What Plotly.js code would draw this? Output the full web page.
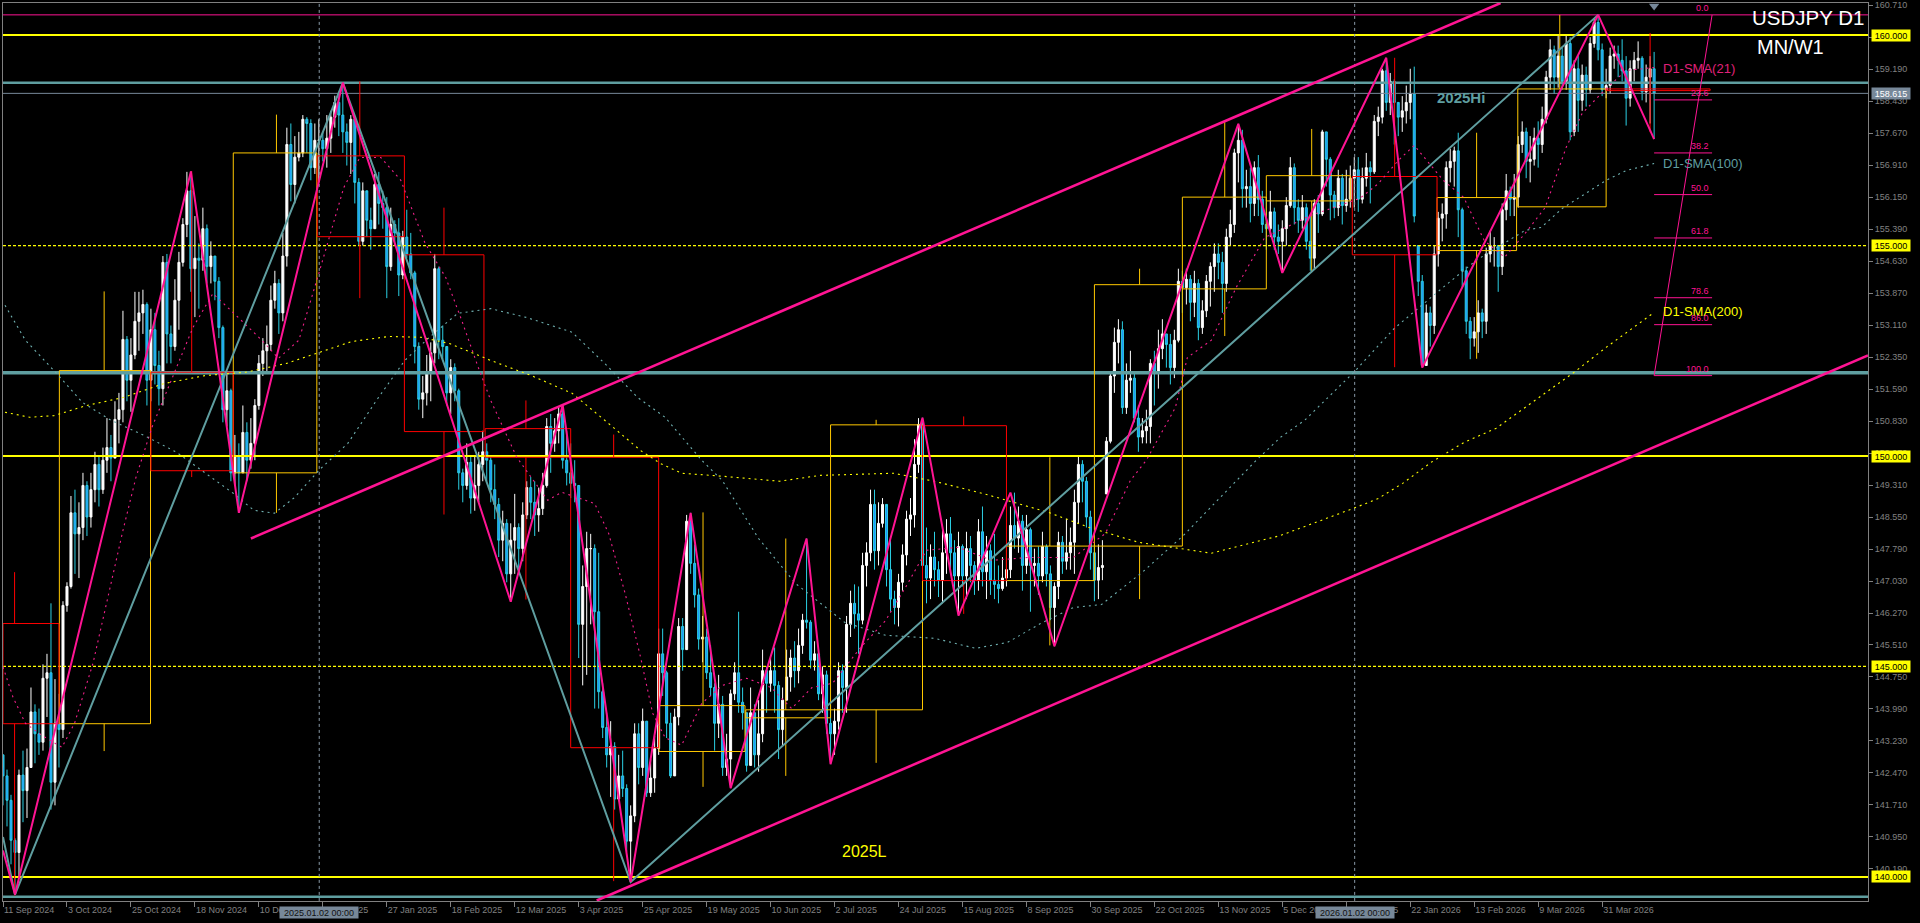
<!DOCTYPE html>
<html><head><meta charset="utf-8"><title>USDJPY D1</title>
<script src="https://cdn.plot.ly/plotly-3.0.1.min.js"></script>
<style>html,body{margin:0;padding:0;background:#000;overflow:hidden}#chart{width:1920px;height:923px}</style>
</head><body><div id="chart"></div>
<script>
const dateLabels=["11 Sep 2024","3 Oct 2024","25 Oct 2024","18 Nov 2024","10 Dec 2024","2 Jan 2025","27 Jan 2025","18 Feb 2025","12 Mar 2025","3 Apr 2025","25 Apr 2025","19 May 2025","10 Jun 2025","2 Jul 2025","24 Jul 2025","15 Aug 2025","8 Sep 2025","30 Sep 2025","22 Oct 2025","13 Nov 2025","5 Dec 2025","30 Dec 2025","22 Jan 2026","13 Feb 2026","9 Mar 2026","31 Mar 2026"];
const priceTicks=[160.71,159.95,159.19,158.43,157.67,156.91,156.15,155.39,154.63,153.87,153.11,152.35,151.59,150.83,150.07,149.31,148.55,147.79,147.03,146.27,145.51,144.75,143.99,143.23,142.47,141.71,140.95,140.19];
const firstOpen=142.90;
const gapOpens={276:149.10,354:155.00};
const closes=[142.40,141.82,140.87,140.58,142.42,142.05,142.60,143.92,143.40,143.20,
144.72,144.85,142.25,143.65,143.50,146.45,146.90,148.65,148.15,148.30,
149.30,148.55,149.20,149.80,149.20,149.90,150.20,149.95,150.87,151.10,
152.77,151.80,152.40,153.20,153.40,153.60,151.80,153.00,152.15,151.60,
154.60,152.90,152.60,153.70,154.60,155.50,156.30,154.45,154.70,154.65,
155.40,154.50,154.75,154.15,153.05,151.10,151.55,149.60,150.00,149.60,
150.56,149.90,150.30,151.20,152.20,152.50,152.65,153.70,154.10,153.40,
154.75,157.40,156.45,157.10,157.20,158.00,157.90,156.85,157.50,157.50,
157.30,157.55,158.05,158.40,158.10,157.70,157.45,158.00,156.50,155.10,
156.30,155.60,155.40,156.45,156.00,155.90,154.50,155.50,155.30,154.30,
155.20,154.80,154.35,152.60,151.35,151.50,152.00,152.45,154.45,152.75,
152.60,151.50,152.10,151.55,149.60,149.30,149.85,149.00,149.30,149.80,
150.10,149.90,149.20,148.85,148.00,148.40,147.20,148.00,148.30,147.80,
148.60,149.25,148.90,148.60,148.75,149.30,150.70,150.30,150.60,151.00,
149.90,149.60,149.35,149.30,146.00,146.90,147.80,147.80,146.30,144.40,
143.55,142.90,143.10,141.85,142.40,142.10,140.85,141.45,143.40,142.60,
143.70,142.00,142.35,143.05,145.30,144.85,143.65,142.40,143.80,145.95,
145.40,148.45,147.45,146.70,145.65,145.70,144.85,144.50,143.65,144.10,
142.60,142.80,144.35,144.85,144.15,143.90,142.65,143.90,142.90,143.40,
144.90,144.60,144.90,144.55,143.50,144.20,144.75,145.20,144.90,145.50,
146.10,146.05,145.15,145.30,144.35,144.80,143.65,143.40,143.70,144.90,
144.50,146.00,146.50,146.25,146.10,147.40,147.70,148.85,147.75,148.40,
148.85,147.30,146.60,146.40,147.00,147.65,148.50,148.60,149.80,150.75,
147.40,147.10,147.60,147.30,147.05,147.70,148.15,147.70,147.15,147.85,
147.15,147.80,147.40,147.05,148.20,147.25,147.75,147.05,146.95,146.85,
147.10,147.30,148.35,148.05,148.45,147.40,148.25,147.40,147.45,147.15,
147.85,147.20,146.40,146.90,147.95,147.50,147.70,147.95,148.90,149.80,
149.40,148.55,147.70,147.05,147.35,147.40,150.35,151.90,152.70,153.00,
151.15,151.80,151.85,150.90,150.45,150.60,150.70,152.20,152.00,152.55,
152.90,152.65,152.10,152.75,154.15,154.00,154.20,153.65,154.10,153.05,
153.45,154.15,154.50,154.80,154.60,154.10,155.20,155.50,157.20,157.50,
156.35,156.40,156.00,156.85,156.10,155.50,155.40,155.80,155.20,155.10,
155.40,155.95,156.85,155.90,155.60,155.90,155.10,154.70,156.00,155.75,
157.70,157.05,156.20,155.90,156.60,155.95,156.10,156.60,156.80,156.10,
156.60,156.85,156.75,157.95,158.05,159.15,158.40,158.90,158.40,158.05,
158.20,158.40,158.60,155.70,154.15,152.15,153.40,153.10,154.80,155.65,
155.75,156.85,157.00,157.25,155.85,154.40,153.20,152.80,152.95,153.40,
153.20,154.80,155.00,155.00,154.50,155.85,156.30,156.10,156.15,157.40,
157.70,157.00,157.05,157.55,157.40,158.00,159.00,159.65,159.00,159.50,
158.90,159.80,157.70,159.20,158.45,159.05,158.70,159.80,160.30,159.65,
158.70,158.80,159.50,159.55,159.40,159.15,158.50,159.20,159.40,159.45,
158.65,159.00,159.20,158.62];
const highs=[142.60,142.55,141.95,140.92,142.55,143.00,143.05,144.50,144.10,144.00,
145.05,145.30,146.50,144.70,144.35,146.55,147.00,149.05,149.20,148.90,
149.60,149.40,149.60,150.10,150.00,150.20,150.90,150.50,151.30,151.50,
153.45,152.85,152.80,153.90,153.90,153.95,153.65,153.50,153.40,152.50,
154.75,154.80,153.10,154.20,154.85,155.65,156.75,156.76,155.70,155.05,
155.90,155.50,155.10,154.70,154.25,153.10,152.00,151.60,150.50,150.30,
151.20,150.80,150.90,151.35,152.40,152.80,153.10,154.05,154.40,154.20,
155.30,157.80,157.90,157.60,157.70,158.10,158.05,158.00,157.90,158.00,
157.70,158.10,158.20,158.56,158.60,158.87,157.90,158.10,158.00,156.60,
156.50,156.25,155.90,156.70,156.75,156.30,156.15,155.90,155.60,155.65,
155.35,155.85,155.30,154.40,152.70,151.90,152.40,152.70,154.80,154.50,
153.10,152.50,152.30,152.20,151.60,149.70,150.30,150.00,150.00,150.10,
150.60,150.30,150.00,149.80,149.00,148.70,148.50,148.40,149.10,148.40,
148.90,149.40,149.50,149.40,149.25,149.60,150.90,151.00,150.90,151.15,
151.20,150.60,150.30,149.90,149.30,147.40,148.20,148.15,147.90,147.70,
144.60,143.90,143.70,143.20,142.90,143.00,142.20,141.70,143.65,143.65,
144.00,143.70,142.80,143.35,145.90,145.90,144.90,143.90,144.00,146.15,
146.15,148.60,148.65,147.90,146.85,146.20,145.90,145.50,144.60,144.80,
144.30,143.40,144.45,145.10,146.30,144.50,143.90,144.50,144.10,144.20,
145.40,145.00,145.20,145.45,144.65,144.50,145.40,145.40,145.60,145.90,
146.25,148.04,146.10,145.60,145.40,145.00,144.90,144.10,144.00,145.10,
145.05,146.20,146.80,146.95,146.90,147.70,147.95,149.20,149.20,148.90,
149.00,148.80,148.00,146.80,147.20,147.90,148.70,149.00,150.40,150.90,
150.91,148.30,147.90,148.20,147.50,148.30,148.50,148.55,148.00,148.20,
147.90,148.20,148.10,147.50,148.50,148.80,148.10,147.90,148.15,147.40,
147.60,147.60,148.80,149.13,148.80,148.60,148.60,148.30,147.80,147.85,
148.20,147.90,147.40,147.00,148.20,148.10,148.50,148.30,149.20,150.00,
149.90,149.50,148.70,147.90,147.90,148.00,150.45,152.00,153.05,153.25,
153.20,152.20,152.50,151.95,151.20,150.90,151.10,152.30,152.50,153.00,
153.25,152.90,152.90,153.00,154.45,154.40,154.45,154.30,154.40,154.20,
153.70,154.30,154.60,155.05,155.05,154.85,155.40,155.85,157.30,157.89,
157.75,156.80,156.85,157.00,157.15,156.30,156.15,156.30,155.90,155.50,
155.60,156.15,157.10,156.95,156.10,156.20,156.00,155.70,156.10,156.20,
157.75,157.70,157.10,156.30,156.80,156.70,156.80,156.90,157.10,157.10,
156.85,157.20,157.00,158.10,158.30,159.20,159.46,159.10,158.95,158.35,
158.55,158.80,159.20,159.25,155.00,154.30,153.60,153.55,155.00,155.80,
156.00,157.00,157.30,157.35,157.68,155.90,154.50,153.30,153.30,153.70,
153.50,154.95,155.35,155.20,155.00,156.00,156.70,156.40,156.70,157.60,
157.95,157.80,157.60,157.80,157.95,158.30,159.15,159.90,159.75,160.00,
159.70,160.00,159.95,159.40,159.50,159.30,159.25,159.95,160.40,160.48,
159.80,159.20,159.70,159.75,159.75,159.90,159.50,159.40,159.60,159.85,
159.50,159.30,159.50,159.60];
const lows=[141.70,141.20,140.30,139.58,140.00,141.30,141.40,142.60,142.70,142.90,
143.00,143.80,141.60,141.70,142.60,143.30,146.30,146.85,147.20,147.10,
148.00,148.10,148.30,148.90,148.80,149.10,149.60,149.40,150.00,150.30,
150.80,151.30,151.05,152.30,152.50,152.90,151.20,151.30,151.70,151.20,
151.20,152.20,152.20,152.50,153.00,154.50,155.20,153.90,153.30,153.50,
154.40,154.10,154.10,153.70,152.80,150.80,150.70,149.40,149.30,148.65,
149.60,149.40,149.70,149.90,151.10,151.90,152.00,152.50,153.50,152.90,
153.20,154.50,156.05,156.00,157.00,157.10,157.20,156.55,156.70,156.50,
157.00,156.85,157.20,157.80,157.60,157.20,156.90,156.70,156.00,155.00,
155.00,155.20,154.90,155.40,155.50,155.40,153.75,154.40,155.00,153.80,
154.20,154.70,154.20,152.20,151.10,150.90,151.20,151.30,152.20,152.30,
152.30,151.20,151.00,151.30,149.20,148.90,149.20,148.63,148.70,148.90,
149.40,149.40,148.90,148.50,147.60,147.50,147.00,146.54,147.20,147.20,
147.50,148.50,148.50,148.10,148.20,148.60,149.25,149.60,150.10,150.30,
149.70,149.30,149.00,148.90,145.20,144.55,144.80,146.00,144.00,144.00,
143.30,142.60,141.90,141.60,141.80,141.90,140.60,139.88,141.30,142.20,
142.40,141.90,141.90,142.00,142.90,144.30,143.30,142.35,142.40,143.60,
144.90,146.00,147.20,146.40,145.40,145.10,144.70,144.30,143.00,143.30,
142.40,142.40,142.11,144.20,143.90,143.50,142.50,142.90,142.60,142.50,
143.20,143.90,144.40,143.90,142.80,143.10,144.30,144.40,144.50,144.60,
145.30,145.90,144.95,144.90,144.20,143.90,143.40,142.68,142.90,143.50,
143.90,143.90,145.70,145.90,145.30,146.00,146.90,147.50,147.30,147.40,
148.30,146.90,146.30,146.00,145.95,146.80,147.40,148.10,148.30,149.60,
147.30,146.50,146.60,146.90,146.65,146.50,147.20,147.30,146.80,146.21,
146.90,146.60,147.00,146.70,146.80,146.90,146.60,146.70,146.60,146.50,
146.80,146.90,147.10,147.80,147.70,146.80,147.20,146.30,146.90,146.70,
147.00,146.90,146.10,145.48,146.60,147.20,147.30,147.30,147.20,148.40,
148.90,148.30,147.30,146.55,146.60,147.05,149.10,150.30,151.50,152.20,
151.00,151.00,151.50,150.80,150.10,150.30,150.30,150.30,151.20,151.60,
152.30,152.10,151.70,151.85,152.70,153.40,153.60,153.20,153.30,152.75,
152.90,153.30,153.55,153.90,154.20,153.40,153.90,155.00,155.30,156.50,
155.90,155.90,155.55,155.70,155.70,155.30,154.90,155.20,154.90,154.80,
154.35,155.00,155.90,155.50,155.30,155.40,154.90,154.40,154.45,155.30,
155.70,156.40,155.60,155.65,155.70,155.50,155.80,155.90,155.90,155.80,
156.00,156.40,156.00,156.70,157.60,157.90,158.20,158.10,157.40,157.60,
157.70,157.90,158.00,155.55,153.80,152.10,152.30,152.60,152.90,154.50,
155.10,155.40,156.50,156.40,155.20,154.00,152.90,152.30,152.60,152.45,
152.80,152.90,154.60,154.50,153.90,154.30,155.60,155.70,155.70,155.90,
157.20,156.60,156.50,156.90,156.85,157.20,157.90,158.70,158.60,158.75,
158.70,158.70,157.50,157.60,157.70,158.20,158.30,158.60,159.70,159.40,
158.55,158.50,158.60,159.20,159.00,158.90,157.85,158.30,158.90,159.20,
158.45,158.40,157.90,157.53];

// higher timeframe candles: left bar, right bar, wick bar, body top, body bottom, high, low
const htfColors=["r","y","r","y","r","r","r","r","y","y","y","r","y","y","y","y","r","y","y","r"];
const htfLeft =[0,14.1,37,57.6,78.6,100.4,120.6,142,164.1,185.8,207,230,251,273,295,316,337.5,358.7,378.9,401];
const htfRight=[14,36.9,57.6,78.5,100.4,120.3,142,164,185.6,207,230,251,273,295,316,337,358.7,378.6,401,427];
const htfWick =[2.9,25.3,47.2,68.4,89.25,110.3,130.8,152.75,175.1,195.8,218.4,240.3,261.85,284.3,305.6,327.35,348.1,368.6,389.4,412];
const htfTop  =[146.02,152.03,151.99,157.20,157.13,154.78,150.65,149.97,144.07,143.97,150.74,150.72,147.86,154.07,156.15,156.66,156.64,156.14,158.72,158.72];
const htfBot  =[143.64,143.64,149.65,149.60,155.21,150.58,149.97,143.07,142.98,143.78,143.97,147.04,147.04,147.86,153.97,156.06,154.78,154.88,155.92,158.68];
const htfHigh =[147.24,153.91,156.77,158.11,158.90,155.90,151.32,150.51,148.66,148.04,150.86,150.94,149.97,154.45,157.93,157.77,159.46,157.68,160.48,160.05];
const htfLow  =[139.56,142.99,149.50,148.65,153.75,148.61,146.59,139.90,142.14,142.40,142.71,146.25,145.50,146.60,152.85,154.37,152.11,152.31,155.92,157.69];

// zigzags
const pinkZigX=[0,3,47,59,85,127,140,157,172,182,201,207,230,239,252,263,309,320,346,355,399,413];
const pinkZigP=[140.63,139.58,156.76,148.65,158.87,146.54,151.21,139.88,148.65,142.11,148.04,142.68,150.91,146.21,149.13,145.48,157.89,154.35,159.46,152.10,160.48,157.53];
const tealZigX=[0,3,85,157,399];
const tealZigP=[140.95,139.58,158.87,139.88,160.48];
// channel
const chanUpX=[62,374.6]; const chanUpP=[148.04,160.76];
const chanLoX=[148.5,466.5]; const chanLoP=[139.44,152.39];

// moving averages
const sma21X=[0,2.5,5.6,9.75,14.75,17.9,22.5,26,30,33.25,37.25,47.5,52.5,57.75,64.75,68.9,74,79,85.25,89.25,94.5,99.5,105.6,110.75,114.75,118.9,122,128.5,136.25,139.75,148,151.5,155.6,159.5,162.5,165.6,169.75,174.75,179.9,186,192.15,197.25,202.35,207.5,214.5,220.75,225.75,231,239,247.25,256.5,267.75,275.75,282,286,293.25,296.25,302.25,308.5,315.6,327,339.4,344,349,353,360.25,365.4,370.5,375.6,380.75,385.75,391,395,401,406,413];
const sma21P=[144.99,144.27,143.65,143.36,143.08,143.65,145.07,146.57,148.23,149.49,150.68,153.05,153.86,153.39,152.75,152.32,152.75,154.34,156.38,157.09,157.09,156.55,155.05,154.24,153.22,152.10,151.32,149.97,148.95,149.14,148.87,148.16,146.74,145.21,143.89,143.31,143.13,144.12,144.55,144.72,144.50,144.00,144.50,144.60,145.45,146.09,146.88,147.76,147.83,147.52,147.59,147.59,148.16,149.42,149.90,151.15,152.34,152.75,154.01,155.19,155.71,156.12,156.47,157.02,157.38,156.55,156.14,155.12,154.72,155.29,155.90,157.33,158.14,158.73,159.16,159.23];
const sma100X=[0.5,5.6,12.75,19.9,27,35.25,43.4,50.5,57.65,62.75,67.9,73,79,86.25,93.4,100.5,106.65,113.75,122,131,142.35,150.5,158.75,165.6,174.75,179.9,189,198.25,210.5,220.75,233,243.25,251.25,259.5,267.75,274.75,285,295.25,305.5,313.5,319.5,325.6,337.9,348,359.25,368.5,380.75,384.75,390,397,401,406,413];
const sma100P=[153.58,152.75,152.03,151.27,150.85,150.49,150.09,149.61,149.11,148.71,148.64,149.02,149.66,150.30,151.32,152.27,152.82,153.39,153.50,153.29,152.94,152.20,151.39,150.92,149.90,149.42,148.04,146.97,146.05,145.74,145.67,145.43,145.57,146.02,146.40,146.47,147.24,148.11,149.11,149.90,150.44,150.85,151.99,153.03,153.93,154.65,155.36,155.43,155.88,156.31,156.55,156.78,156.95];
const sma200X=[0.5,6.65,12.75,20.9,30.1,40.25,50.5,60.75,70.9,79,87.25,96.5,104.6,111.75,122,132.15,142.35,150.5,159.5,164.5,169.75,179.9,194.25,204.4,222.75,233,246.25,261.5,271.75,284,302.25,319.5,329.75,337.9,344,350.1,357.25,365.4,373.5,380.75,393,401,413];
const sma200P=[151.04,150.92,150.96,151.20,151.39,151.72,151.91,151.99,152.20,152.46,152.72,152.84,152.82,152.67,152.27,151.91,151.49,150.85,150.13,149.82,149.59,149.52,149.40,149.54,149.59,149.40,149.08,148.66,148.30,147.95,147.69,148.11,148.47,148.76,148.99,149.35,149.85,150.32,150.66,151.15,151.99,152.58,153.41];

// fibonacci
const fibNames=["0.0","23.6","38.2","50.0","61.8","78.6","86.0","100.0"];
const fibPrices=[160.48,158.46,157.20,156.21,155.18,153.76,153.12,151.91];
const fibStartBar=413, fibEndBar=427.5, lastBar=466.5;

// horizontal levels
const yellowLevels=[160,150,140];
const dashedLevels=[155,145];
const tealLevels=[158.87,151.98,139.53];
const tealWidths=[2.5,3.5,2.5];
const bidPrice=158.615;
const crossBars=[79.1,338.1];
const crossLabels=["2025.01.02 00:00","2026.01.02 00:00"];

const PINK="#ff1493",TEAL="#5f9ea0",YEL="#ffff00",GOLD="#ffc800",RED="#ff0000",GREY="#808080",SLATE="#778899";
const line=(x,y,color,width,dash)=>({type:"scatter",mode:"lines",x,y,hoverinfo:"skip",showlegend:false,line:{color,width,dash:dash||"solid"}});
const traces=[];
yellowLevels.forEach(p=>traces.push(line([0,lastBar],[p,p],YEL,2)));
dashedLevels.forEach(p=>traces.push(line([0,lastBar],[p,p],YEL,1.2,"3px,2px")));
tealLevels.forEach((p,i)=>traces.push(line([0,lastBar],[p,p],TEAL,tealWidths[i])));
traces.push(line([0,lastBar],[bidPrice,bidPrice],SLATE,1));
traces.push(line([0,lastBar],[fibPrices[0],fibPrices[0]],PINK,1));
crossBars.forEach(b=>traces.push(line([b,b],[139.43,160.76],"#8a9aa8",1,"3px,3px")));

// higher timeframe boxes
["y","r"].forEach(k=>{
  const xs=[],ys=[];
  htfLeft.forEach((l,i)=>{
    if(htfColors[i]!==k) return;
    const r=htfRight[i],w=htfWick[i],t=htfTop[i],b=htfBot[i];
    xs.push(l,r,r,l,l,null,w,w,null,w,w,null);
    ys.push(t,t,b,b,t,null,t,htfHigh[i],null,b,htfLow[i],null);
  });
  traces.push(line(xs,ys,k==="y"?GOLD:RED,1));
});

// candles
const barIdx=closes.map((_,i)=>i);
const opens=closes.map((_,i)=>gapOpens[i]!==undefined?gapOpens[i]:(i?closes[i-1]:firstOpen));
traces.push({type:"candlestick",x:barIdx,open:opens,high:highs,low:lows,close:closes,hoverinfo:"skip",showlegend:false,whiskerwidth:0,
  increasing:{line:{color:"#ffffff",width:1},fillcolor:"#ffffff"},
  decreasing:{line:{color:"#2bd0e4",width:1},fillcolor:"#1e90ff"}});

// averages
traces.push(line(sma21X,sma21P,"#f0208a",1.1,"2px,4px"));
traces.push(line(sma100X,sma100P,"#6fb0b0",1.1,"2px,4px"));
traces.push(line(sma200X,sma200P,YEL,1.1,"2px,4px"));

// zigzags and channel
traces.push(line(tealZigX,tealZigP,TEAL,2));
traces.push(line(pinkZigX,pinkZigP,PINK,2));
traces.push(line(chanUpX,chanUpP,PINK,2.6));
traces.push(line(chanLoX,chanLoP,PINK,2.6));

// fibonacci
traces.push(line([fibStartBar,fibEndBar],[fibPrices[fibPrices.length-1],fibPrices[0]],PINK,1));
fibPrices.forEach((p,i)=>{ if(i) traces.push(line([fibStartBar,fibEndBar],[p,p],PINK,1)); });

// drop marker
traces.push({type:"scatter",mode:"markers",x:[413],y:[160.69],hoverinfo:"skip",showlegend:false,marker:{symbol:"triangle-down",size:9,color:SLATE}});

const FONT="Liberation Sans, Arial, sans-serif";
const note=(x,y,text,color,size,anchor,extra)=>Object.assign({x,y,xref:"x",yref:"y",text,showarrow:false,xanchor:anchor||"left",yanchor:"middle",font:{family:FONT,color,size},borderpad:0},extra||{});
const annotations=[
  note(465.75,160.425,"USDJPY D1","#ffffff",20.5,"right"),
  note(438.5,159.71,"MN/W1","#ffffff",20,"left"),
  note(415,159.2,"D1-SMA(21)","#e0207a",13),
  note(415,156.95,"D1-SMA(100)",TEAL,13),
  note(415,153.43,"D1-SMA(200)",YEL,13),
  note(358.5,158.52,"<b>2025Hi</b>",TEAL,15),
  note(209.5,140.61,"2025L",YEL,16),
];
fibNames.forEach((n,i)=>annotations.push({x:427,y:fibPrices[i],xref:"x",yref:"y",text:n,showarrow:false,xanchor:"right",yanchor:"bottom",yshift:1,font:{family:FONT,color:PINK,size:9},borderpad:0}));
const levelBox=(p,text,bg,fg)=>({xref:"paper",x:1,xshift:3,yref:"y",y:p,text,showarrow:false,xanchor:"left",yanchor:"middle",bgcolor:bg,width:38,height:11,align:"center",font:{family:FONT,color:fg,size:9},borderpad:0});
yellowLevels.concat(dashedLevels).forEach(p=>annotations.push(levelBox(p,p.toFixed(3),YEL,"#000000")));
annotations.push(levelBox(bidPrice,bidPrice.toFixed(3),SLATE,"#ffffff"));
crossBars.forEach((b,i)=>annotations.push({x:b,xref:"x",yref:"paper",y:-0.01225,text:crossLabels[i],showarrow:false,xanchor:"center",yanchor:"middle",bgcolor:SLATE,width:78,height:11,font:{family:FONT,color:"#111111",size:9},borderpad:0}));

const layout={width:1920,height:923,paper_bgcolor:"#000",plot_bgcolor:"#000",showlegend:false,
  margin:{l:2.5,r:51.5,t:2.5,b:22.3,pad:0},boxgap:0.5,boxgroupgap:0,hovermode:false,dragmode:false,
  font:{family:FONT,color:GREY,size:9},
  xaxis:{type:"linear",range:[0,lastBar],tickmode:"array",tickvals:dateLabels.map((_,i)=>i*16),ticktext:dateLabels,ticks:"outside",ticklen:5,tickcolor:GREY,tickwidth:1,
    ticklabelposition:"outside right",tickfont:{family:FONT,color:GREY,size:9},showgrid:false,zeroline:false,showline:true,linecolor:GREY,linewidth:1,mirror:true,rangeslider:{visible:false},tickangle:0,automargin:false},
  yaxis:{type:"linear",side:"right",range:[139.428,160.762],tickmode:"array",tickvals:priceTicks,ticktext:priceTicks.map(v=>v.toFixed(3)),ticks:"outside",ticklen:4,tickcolor:GREY,tickwidth:1,
    tickfont:{family:FONT,color:GREY,size:9},showgrid:false,zeroline:false,showline:true,linecolor:GREY,linewidth:1,mirror:true,automargin:false},
  annotations};
Plotly.newPlot("chart",traces,layout,{displayModeBar:false,staticPlot:true,responsive:false});
</script></body></html>
